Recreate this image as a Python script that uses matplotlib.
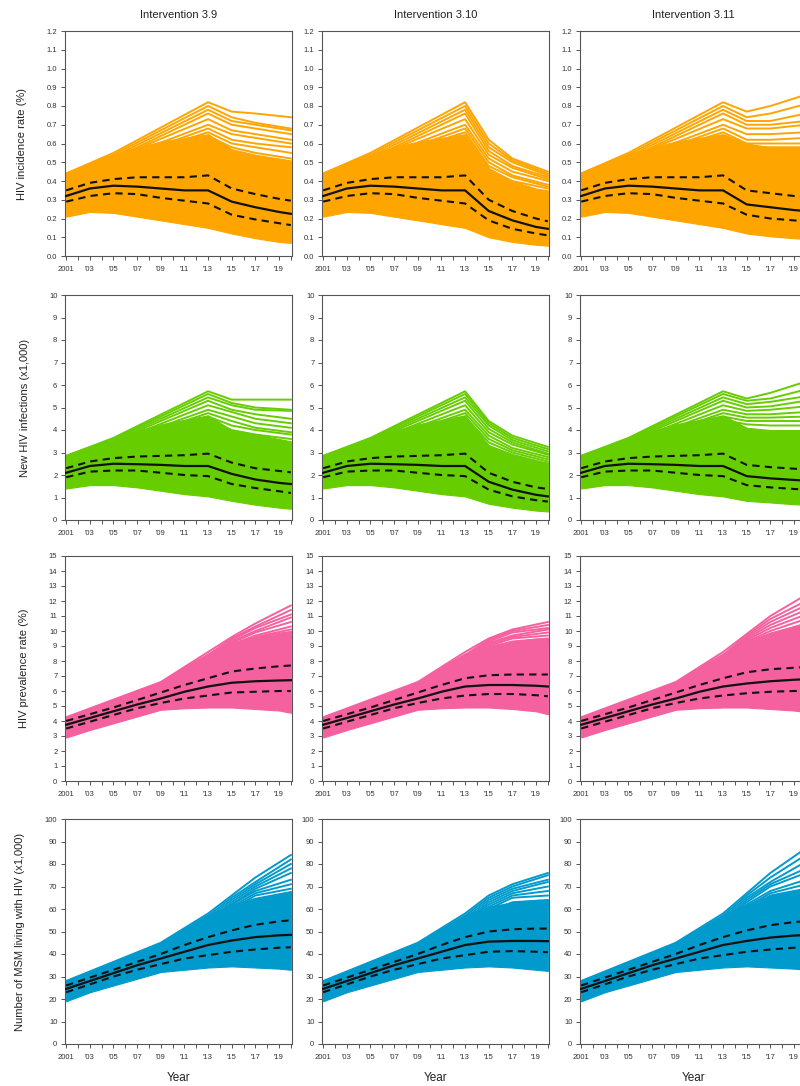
import numpy as np
import matplotlib
matplotlib.use('Agg')
import matplotlib.pyplot as plt

plt.rcParams['font.family'] = ['Liberation Sans', 'DejaVu Sans']

# x axis
years_cal = [2001, 2003, 2005, 2007, 2009, 2011, 2013]
years_proj = [2015, 2017, 2019, 2020]
tick_years = list(range(2001, 2021))
tick_labels = ['2001', '', "'03", '', "'05", '', "'07", '', "'09", '', "'11", '', "'13", '',
               "'15", '', "'17", '', "'19", '']

titles = ['Intervention 3.9', 'Intervention 3.10', 'Intervention 3.11']
ylabels = ['HIV incidence rate (%)', 'New HIV infections (x1,000)',
           'HIV prevalence rate (%)', 'Number of MSM living with HIV (x1,000)']
colors = ['#FFA500', '#66CD00', '#F5609E', '#009ACD']
ylims = [1.2, 10, 15, 100]
ysteps = [0.1, 1, 1, 10]

# ---- row 1: HIV incidence rate (%) ----
inc_med_cal = [0.32, 0.36, 0.375, 0.37, 0.36, 0.35, 0.35]
inc_hi_cal = [0.35, 0.39, 0.41, 0.42, 0.42, 0.42, 0.43]
inc_lo_cal = [0.29, 0.32, 0.335, 0.33, 0.31, 0.295, 0.28]
inc_min_cal = [0.21, 0.235, 0.23, 0.21, 0.19, 0.17, 0.15]
inc_dense_cal = [0.44, 0.49, 0.54, 0.58, 0.61, 0.63, 0.65]
inc_med_proj = [[0.29, 0.26, 0.235, 0.225], [0.24, 0.19, 0.155, 0.145], [0.275, 0.26, 0.245, 0.24]]
inc_hi_proj = [[0.36, 0.33, 0.305, 0.295], [0.30, 0.24, 0.20, 0.185], [0.35, 0.335, 0.32, 0.315]]
inc_lo_proj = [[0.22, 0.195, 0.175, 0.165], [0.19, 0.145, 0.12, 0.11], [0.22, 0.20, 0.19, 0.185]]
inc_min_proj = [[0.12, 0.095, 0.075, 0.07], [0.10, 0.075, 0.06, 0.055], [0.12, 0.105, 0.095, 0.09]]
inc_dense_proj = [[0.57, 0.54, 0.52, 0.51], [0.47, 0.40, 0.36, 0.35], [0.60, 0.58, 0.58, 0.58]]
# single runs above the dense band: 2001, 2005, 2013 | 2015, 2017, 2020
inc_runs_cal = [[0.44, 0.55, 0.82], [0.44, 0.54, 0.80], [0.43, 0.53, 0.78], [0.43, 0.52, 0.76],
                [0.42, 0.52, 0.73], [0.42, 0.51, 0.70], [0.41, 0.50, 0.68], [0.41, 0.50, 0.66],
                [0.40, 0.49, 0.64]]
inc_runs_proj = [
    [[0.77, 0.76, 0.74], [0.74, 0.71, 0.68], [0.72, 0.70, 0.67], [0.70, 0.68, 0.65], [0.67, 0.65, 0.62],
     [0.65, 0.63, 0.60], [0.62, 0.60, 0.58], [0.60, 0.58, 0.55], [0.58, 0.55, 0.52]],
    [[0.62, 0.52, 0.45], [0.60, 0.51, 0.44], [0.58, 0.50, 0.43], [0.56, 0.48, 0.42], [0.54, 0.47, 0.41],
     [0.52, 0.45, 0.40], [0.50, 0.43, 0.38], [0.48, 0.42, 0.37], [0.46, 0.40, 0.36]],
    [[0.77, 0.80, 0.86], [0.74, 0.76, 0.81], [0.72, 0.72, 0.76], [0.70, 0.70, 0.72], [0.68, 0.68, 0.70],
     [0.65, 0.65, 0.66], [0.62, 0.62, 0.63], [0.60, 0.60, 0.60], [0.58, 0.58, 0.58]],
]

# ---- row 2: new HIV infections (x1,000) ----
new_med_cal = [2.1, 2.4, 2.5, 2.48, 2.45, 2.4, 2.4]
new_hi_cal = [2.3, 2.6, 2.75, 2.82, 2.85, 2.88, 2.95]
new_lo_cal = [1.9, 2.15, 2.2, 2.2, 2.1, 2.0, 1.95]
new_min_cal = [1.4, 1.55, 1.55, 1.45, 1.3, 1.15, 1.05]
new_dense_cal = [2.85, 3.25, 3.6, 3.95, 4.25, 4.45, 4.65]
new_med_proj = [[2.05, 1.8, 1.65, 1.6], [1.7, 1.35, 1.12, 1.05], [1.95, 1.85, 1.78, 1.75]]
new_hi_proj = [[2.55, 2.3, 2.18, 2.12], [2.1, 1.7, 1.45, 1.38], [2.45, 2.35, 2.28, 2.25]]
new_lo_proj = [[1.6, 1.42, 1.28, 1.2], [1.35, 1.05, 0.88, 0.82], [1.55, 1.45, 1.38, 1.35]]
new_min_proj = [[0.85, 0.68, 0.55, 0.5], [0.72, 0.55, 0.42, 0.38], [0.85, 0.78, 0.7, 0.68]]
new_dense_proj = [[4.0, 3.8, 3.6, 3.5], [3.3, 2.9, 2.6, 2.55], [4.1, 4.0, 4.0, 4.0]]
new_runs_cal = [[2.85, 3.65, 5.72], [2.85, 3.6, 5.6], [2.8, 3.55, 5.45], [2.8, 3.5, 5.3],
                [2.75, 3.45, 5.1], [2.75, 3.4, 4.9], [2.7, 3.35, 4.75], [2.7, 3.3, 4.6],
                [2.65, 3.25, 4.45]]
new_runs_proj = [
    [[5.35, 5.35, 5.35], [5.2, 5.0, 4.9], [5.1, 4.9, 4.85], [4.9, 4.7, 4.5], [4.8, 4.5, 4.3],
     [4.6, 4.3, 4.1], [4.4, 4.1, 3.9], [4.2, 4.0, 3.8], [4.0, 3.8, 3.6]],
    [[4.4, 3.75, 3.25], [4.3, 3.65, 3.15], [4.2, 3.55, 3.05], [4.05, 3.45, 2.95], [3.9, 3.35, 2.9],
     [3.75, 3.2, 2.8], [3.6, 3.1, 2.7], [3.45, 3.0, 2.6], [3.3, 2.9, 2.5]],
    [[5.4, 5.65, 6.15], [5.3, 5.4, 5.8], [5.15, 5.25, 5.5], [5.0, 5.05, 5.3], [4.85, 4.9, 5.05],
     [4.7, 4.7, 4.8], [4.55, 4.55, 4.6], [4.4, 4.4, 4.4], [4.25, 4.2, 4.2]],
]

# ---- row 3: HIV prevalence rate (%) ----
prev_med_cal = [3.75, 4.2, 4.65, 5.1, 5.5, 5.95, 6.3]
prev_hi_cal = [4.0, 4.45, 4.9, 5.4, 5.9, 6.4, 6.85]
prev_lo_cal = [3.5, 3.95, 4.4, 4.85, 5.2, 5.5, 5.7]
prev_min_cal = [2.9, 3.4, 3.85, 4.3, 4.75, 4.85, 4.9]
prev_dense_cal = [4.25, 4.75, 5.25, 5.85, 6.6, 7.6, 8.5]
prev_med_proj = [[6.55, 6.65, 6.7, 6.72], [6.4, 6.4, 6.35, 6.3], [6.5, 6.65, 6.75, 6.78]]
prev_hi_proj = [[7.3, 7.5, 7.65, 7.7], [7.05, 7.1, 7.1, 7.1], [7.25, 7.45, 7.55, 7.6]]
prev_lo_proj = [[5.9, 5.95, 6.0, 6.0], [5.8, 5.8, 5.72, 5.65], [5.85, 5.95, 6.0, 6.0]]
prev_min_proj = [[4.9, 4.8, 4.7, 4.55], [4.9, 4.8, 4.65, 4.45], [4.9, 4.8, 4.7, 4.6]]
prev_dense_proj = [[9.2, 9.6, 9.9, 10.0], [9.0, 9.3, 9.5, 9.5], [9.3, 9.9, 10.3, 10.5]]
# single runs: 2001, 2009, 2013 | 2015, 2017, 2020
prev_runs_cal = [[4.25, 6.6, 8.6], [4.2, 6.5, 8.4], [4.2, 6.45, 8.3], [4.15, 6.4, 8.2],
                 [4.15, 6.35, 8.1], [4.1, 6.3, 8.0], [4.1, 6.2, 7.9], [4.05, 6.15, 7.8],
                 [4.0, 6.1, 7.7]]
prev_runs_proj = [
    [[9.6, 10.5, 11.7], [9.5, 10.3, 11.4], [9.4, 10.2, 11.1], [9.3, 10.0, 10.9], [9.2, 9.9, 10.6],
     [9.1, 9.7, 10.3], [9.0, 9.6, 10.1], [8.9, 9.5, 9.9], [8.8, 9.3, 9.6]],
    [[9.5, 10.1, 10.6], [9.4, 10.0, 10.4], [9.3, 9.9, 10.2], [9.2, 9.7, 10.1], [9.1, 9.6, 9.9],
     [9.0, 9.5, 9.7], [8.9, 9.3, 9.5], [8.8, 9.2, 9.3], [8.7, 9.0, 9.1]],
    [[9.8, 11.0, 12.4], [9.7, 10.8, 12.0], [9.6, 10.6, 11.7], [9.5, 10.4, 11.4], [9.4, 10.2, 11.1],
     [9.3, 10.0, 10.8], [9.2, 9.8, 10.5], [9.1, 9.6, 10.2], [9.0, 9.5, 10.0]],
]

# ---- row 4: MSM living with HIV (x1,000) ----
plhiv_med_cal = [24.5, 28, 31.5, 35, 38, 41, 44]
plhiv_hi_cal = [26, 29.5, 33, 36.5, 40, 44, 47.5]
plhiv_lo_cal = [23, 26.5, 30, 33, 35.5, 38, 39.5]
plhiv_min_cal = [19, 23, 26, 29, 32, 33, 34]
plhiv_dense_cal = [28, 31.5, 35.5, 40, 45, 51, 57.5]
plhiv_med_proj = [[46, 47.5, 48.3, 48.5], [45.5, 45.8, 45.8, 45.7], [45.8, 47.3, 48.2, 48.4]]
plhiv_hi_proj = [[50.5, 53, 54.5, 55], [50, 51, 51.3, 51.3], [50.5, 52.8, 54.2, 54.6]]
plhiv_lo_proj = [[41, 42, 42.8, 43], [41, 41.3, 41, 40.8], [41, 42, 42.8, 43]]
plhiv_min_proj = [[34.5, 34, 33.5, 33], [34.5, 34, 33, 32.5], [34.5, 34, 33.5, 33]]
plhiv_dense_proj = [[62, 65, 67, 68], [61, 63, 64, 64], [62, 66, 68, 69]]
plhiv_runs_cal = [[28, 45, 58], [27.8, 44.5, 57], [27.6, 44, 56], [27.4, 43.5, 55],
                  [27.2, 43, 54.5], [27, 42.5, 54], [26.8, 42, 53], [26.6, 41.5, 52],
                  [26.4, 41, 51]]
plhiv_runs_proj = [
    [[66, 74, 84], [65, 72, 82], [64, 71, 80], [63, 70, 78], [62, 69, 76],
     [62, 68, 73], [61, 67, 71], [60, 66, 69], [59, 64, 66]],
    [[66, 71, 76], [65, 70, 75], [64, 69, 73], [63, 68, 72], [62, 67, 70],
     [61, 66, 68], [60, 65, 66], [59, 63, 64], [58, 62, 62]],
    [[67, 76, 87], [66, 74, 84], [65, 72, 81], [64, 71, 78], [63, 70, 76],
     [62, 68, 73], [61, 67, 71], [60, 66, 69], [59, 64, 66]],
]

rows = [
    dict(med=(inc_med_cal, inc_med_proj), hi=(inc_hi_cal, inc_hi_proj), lo=(inc_lo_cal, inc_lo_proj),
         mn=(inc_min_cal, inc_min_proj), dense=(inc_dense_cal, inc_dense_proj),
         runs=(inc_runs_cal, inc_runs_proj), run_years=[2001, 2005, 2013, 2015, 2017, 2020]),
    dict(med=(new_med_cal, new_med_proj), hi=(new_hi_cal, new_hi_proj), lo=(new_lo_cal, new_lo_proj),
         mn=(new_min_cal, new_min_proj), dense=(new_dense_cal, new_dense_proj),
         runs=(new_runs_cal, new_runs_proj), run_years=[2001, 2005, 2013, 2015, 2017, 2020]),
    dict(med=(prev_med_cal, prev_med_proj), hi=(prev_hi_cal, prev_hi_proj), lo=(prev_lo_cal, prev_lo_proj),
         mn=(prev_min_cal, prev_min_proj), dense=(prev_dense_cal, prev_dense_proj),
         runs=(prev_runs_cal, prev_runs_proj), run_years=[2001, 2009, 2013, 2015, 2017, 2020]),
    dict(med=(plhiv_med_cal, plhiv_med_proj), hi=(plhiv_hi_cal, plhiv_hi_proj), lo=(plhiv_lo_cal, plhiv_lo_proj),
         mn=(plhiv_min_cal, plhiv_min_proj), dense=(plhiv_dense_cal, plhiv_dense_proj),
         runs=(plhiv_runs_cal, plhiv_runs_proj), run_years=[2001, 2009, 2013, 2015, 2017, 2020]),
]

W, H = 800, 1086
col_left = [65, 322, 580]
row_top = [31, 295, 556, 819]
ax_w, ax_h = 227, 225
axis_grey = '#555555'
text_grey = '#333333'

fig = plt.figure(figsize=(W / 100, H / 100), dpi=100)
years = years_cal + years_proj

for r, row in enumerate(rows):
    for c in range(3):
        ax = fig.add_axes([col_left[c] / W, 1 - (row_top[r] + ax_h) / H, ax_w / W, ax_h / H])
        col = colors[r]

        def series(key):
            cal, proj = row[key]
            return cal + proj[c]

        ax.fill_between(years, series('mn'), series('dense'), color=col, lw=0.8, zorder=1)
        runs_cal, runs_proj = row['runs']
        for rc, rp in zip(runs_cal, runs_proj[c]):
            ax.plot(row['run_years'], rc + rp, color=col, lw=1.4, zorder=1)
        ax.plot(years, series('hi'), color='#111111', lw=1.5, ls=(0, (3.5, 2.5)), zorder=3)
        ax.plot(years, series('lo'), color='#111111', lw=1.5, ls=(0, (3.5, 2.5)), zorder=3)
        ax.plot(years, series('med'), color='#111111', lw=1.6, zorder=3)

        ax.set_xlim(2000.9, 2020.1)
        ax.set_ylim(0, ylims[r])
        ax.set_xticks(tick_years)
        ax.set_xticklabels(tick_labels)
        yt = np.arange(0, ylims[r] + ysteps[r] / 2, ysteps[r])
        ax.set_yticks(yt)
        if r == 0:
            ax.set_yticklabels(['%.1f' % v for v in yt])
        else:
            ax.set_yticklabels(['%d' % round(v) for v in yt])
        ax.tick_params(length=3, width=0.7, color=axis_grey, labelsize=5.5,
                       labelcolor=text_grey, pad=2.5)
        ax.tick_params(axis='x', pad=4)
        for s in ax.spines.values():
            s.set_color(axis_grey)
            s.set_linewidth(0.8)

        if r == 0:
            ax.set_title(titles[c], fontsize=8, color='#222222', pad=9)
        if c == 0:
            ax.set_ylabel(ylabels[r], fontsize=8, color='#222222', labelpad=14)
        if r == 3:
            ax.set_xlabel('Year', fontsize=8.5, color='#222222', labelpad=8)

fig.savefig('out.png', dpi=100)
